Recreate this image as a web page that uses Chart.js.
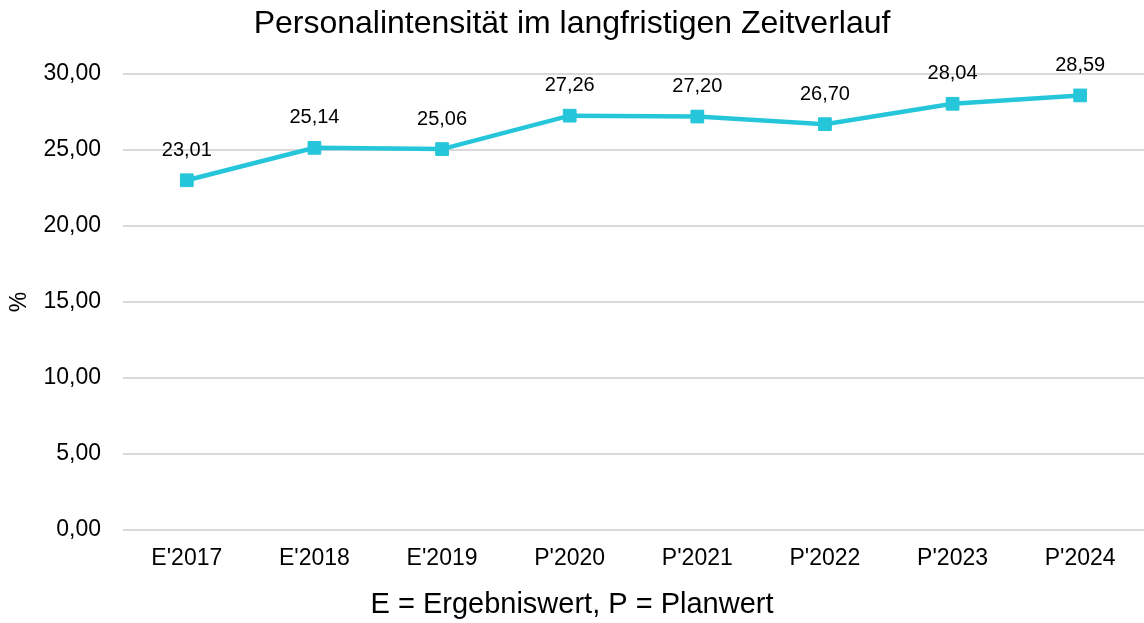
<!DOCTYPE html>
<html>
<head>
<meta charset="utf-8">
<script src="https://cdn.jsdelivr.net/npm/chart.js@4/dist/chart.umd.min.js"></script>
<style>
html,body{margin:0;padding:0;background:#fff;overflow:hidden;}
#wrap{width:1144px;height:623px;position:relative;}
</style>
</head>
<body>
<div id="wrap"><canvas id="c" width="1144" height="623"></canvas></div>
<script>
const categories = ["E'2017","E'2018","E'2019","P'2020","P'2021","P'2022","P'2023","P'2024"];
const values = [23.01, 25.14, 25.06, 27.26, 27.20, 26.70, 28.04, 28.59];
const yTicks = [0, 5, 10, 15, 20, 25, 30];
const chartTitle = "Personalintensität im langfristigen Zeitverlauf";
const footerTitle = "E = Ergebniswert, P = Planwert";
const yTitle = "%";

const FONT = "'Liberation Sans', Arial, sans-serif";
const fmt = v => Number(v).toFixed(2).replace('.', ',');

const dataLabels = {
  id: 'dataLabels',
  afterDatasetsDraw(chart) {
    const ctx = chart.ctx;
    const meta = chart.getDatasetMeta(0);
    ctx.save();
    ctx.font = "20px " + FONT;
    ctx.fillStyle = '#000';
    ctx.textAlign = 'center';
    ctx.textBaseline = 'middle';
    meta.data.forEach((pt, i) => {
      ctx.fillText(fmt(chart.data.datasets[0].data[i]), pt.x, pt.y - 30);
    });
    ctx.restore();
  }
};

new Chart(document.getElementById('c'), {
  type: 'line',
  data: {
    labels: categories,
    datasets: [{
      data: values,
      borderColor: '#26C6DA',
      backgroundColor: '#26C6DA',
      borderWidth: 4.5,
      pointStyle: 'rect',
      pointRadius: 9,
      pointBorderWidth: 1,
      pointBorderColor: '#26C6DA',
      pointBackgroundColor: '#26C6DA',
      tension: 0,
      fill: false,
      clip: false
    }]
  },
  options: {
    responsive: false,
    animation: false,
    layout: { padding: 0, autoPadding: false },
    plugins: {
      legend: { display: false },
      tooltip: { enabled: false },
      title: {
        display: true,
        text: chartTitle,
        color: '#000',
        font: { family: FONT, size: 32, weight: 'normal' },
        padding: { top: 5, bottom: 30.6 }
      },
      subtitle: {
        display: true,
        position: 'bottom',
        text: footerTitle,
        color: '#000',
        font: { family: FONT, size: 29, weight: 'normal' },
        padding: { top: 0, bottom: 1 }
      }
    },
    scales: {
      x: {
        offset: true,
        grid: { display: false, drawTicks: false },
        border: { display: false },
        ticks: {
          color: '#000',
          font: { family: FONT, size: 23 },
          padding: 14.5,
          maxRotation: 0,
          autoSkip: false
        },
        afterFit(scale) { scale.height = 57.2; }
      },
      y: {
        min: 0,
        max: 30,
        afterBuildTicks(scale) { scale.ticks = yTicks.map(v => ({ value: v })); },
        grid: { color: '#d9d9d9', lineWidth: 2, drawTicks: false },
        border: { display: false },
        ticks: {
          color: '#000',
          font: { family: FONT, size: 23 },
          padding: 22,
          callback: v => fmt(v)
        },
        title: {
          display: true,
          text: yTitle,
          color: '#000',
          font: { family: FONT, size: 23 },
          padding: { top: 6, bottom: 0 }
        },
        afterFit(scale) { scale.width = 123; }
      }
    }
  },
  plugins: [dataLabels]
});
</script>
</body>
</html>
